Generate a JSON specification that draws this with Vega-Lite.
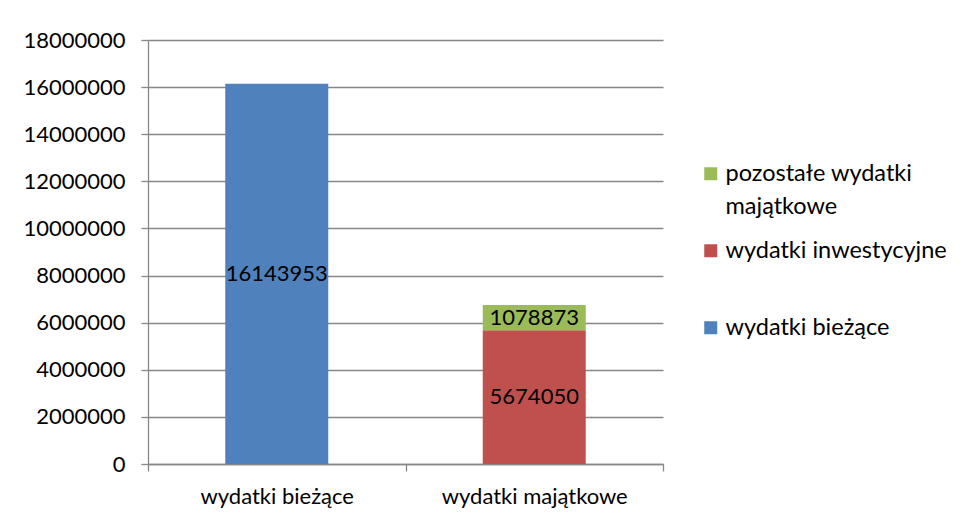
{
  "$schema": "https://vega.github.io/schema/vega-lite/v6.json",
  "width": 515,
  "height": 424,
  "autosize": {"type": "none"},
  "padding": {"left": 148, "top": 40, "right": 299, "bottom": 56},
  "background": "white",
  "config": {
    "font": "Lato",
    "view": {"stroke": null},
    "style": {"guide-label": {"lineHeight": 33}},
    "axis": {"labelFont": "Lato", "labelFontSize": 22, "labelColor": "#000000", "domainColor": "#878787", "tickColor": "#878787", "gridColor": "#878787", "domainWidth": 1.3, "tickWidth": 1.3, "gridWidth": 1.3}
  },
  "data": {
    "values": [
      {"kategoria": "wydatki bieżące", "seria": "wydatki bieżące", "wartosc": 16143953},
      {"kategoria": "wydatki majątkowe", "seria": "wydatki inwestycyjne", "wartosc": 5674050},
      {"kategoria": "wydatki majątkowe", "seria": "pozostałe wydatki majątkowe", "wartosc": 1078873}
    ]
  },
  "encoding": {
    "x": {
      "field": "kategoria", "type": "nominal", "title": null,
      "sort": ["wydatki bieżące", "wydatki majątkowe"],
      "scale": {"paddingInner": 0, "paddingOuter": 0},
      "axis": {"labelAngle": 0, "tickBand": "extent", "tickSize": 7, "labelPadding": 15, "labelLimit": 400, "grid": false}
    },
    "y": {
      "field": "wartosc", "type": "quantitative", "stack": "zero", "title": null,
      "scale": {"domain": [0, 18000000], "nice": false},
      "axis": {"values": [0, 2000000, 4000000, 6000000, 8000000, 10000000, 12000000, 14000000, 16000000, 18000000], "format": "d", "tickSize": 7, "labelPadding": 16, "grid": true}
    },
    "order": {"field": "seria", "sort": "descending"}
  },
  "layer": [
    {
      "mark": {"type": "bar", "width": {"band": 0.4}},
      "encoding": {
        "color": {
          "field": "seria", "type": "nominal",
          "scale": {"domain": ["pozostałe wydatki majątkowe", "wydatki inwestycyjne", "wydatki bieżące"], "range": ["#9BBB59", "#C0504D", "#4F81BD"]},
          "legend": {
            "title": null, "orient": "none", "legendX": 551, "legendY": 122,
            "symbolType": "square", "symbolSize": 169, "symbolStrokeWidth": 0,
            "labelFont": "Lato", "labelFontSize": 23.5, "labelColor": "#000000",
            "labelLimit": 300, "rowPadding": 19, "labelOffset": 3,
            "labelExpr": "datum.label == 'pozostałe wydatki majątkowe' ? ['pozostałe wydatki', 'majątkowe'] : [datum.label, ' ']"
          }
        }
      }
    },
    {
      "mark": {"type": "text", "font": "Lato", "fontSize": 22, "color": "#000000", "baseline": "middle"},
      "encoding": {
        "y": {"field": "wartosc", "type": "quantitative", "stack": "zero", "bandPosition": 0.5},
        "text": {"field": "wartosc", "type": "quantitative", "format": "d"}
      }
    }
  ]
}
